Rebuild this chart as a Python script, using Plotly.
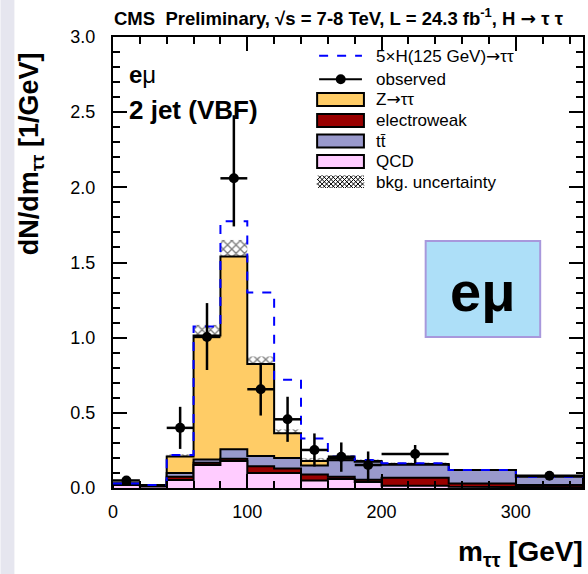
import numpy as np
import plotly.graph_objects as go

# ---------------- data ----------------
edges = [0, 20, 40, 60, 80, 100, 120, 140, 160, 180, 200, 250, 300, 350]
qcd = [0.020, 0.010, 0.053, 0.153, 0.180, 0.100, 0.100, 0.050, 0.060, 0.040, 0.015, 0.008, 0.005]
ewk = [0.005, 0.002, 0.022, 0.015, 0.015, 0.045, 0.030, 0.040, 0.015, 0.015, 0.053, 0.022, 0.015]
ttbar = [0.005, 0.008, 0.025, 0.022, 0.062, 0.068, 0.070, 0.060, 0.110, 0.120, 0.087, 0.090, 0.055]
ztt = [0.000, 0.000, 0.110, 0.825, 1.283, 0.612, 0.165, 0.030, 0.010, 0.005, 0.005, 0.000, 0.000]
signal5x = [0.000, 0.000, 0.010, 0.060, 0.235, 0.475, 0.355, 0.150, 0.015, 0.006, 0.004, 0.000, 0.000]
bkg_unc = [0.005, 0.005, 0.015, 0.070, 0.110, 0.050, 0.025, 0.020, 0.020, 0.010, 0.010, 0.005, 0.005]

obs_x = [10, 50, 70, 90, 110, 130, 150, 170, 190, 225, 325]
obs_xerr = [10, 10, 10, 10, 10, 10, 10, 10, 10, 25, 25]
obs_y = [0.050, 0.400, 1.005, 2.060, 0.657, 0.457, 0.253, 0.208, 0.153, 0.226, 0.082]
obs_up = [0.030, 0.140, 0.225, 0.420, 0.170, 0.150, 0.110, 0.095, 0.090, 0.060, 0.028]
obs_dn = [0.030, 0.140, 0.220, 0.320, 0.175, 0.150, 0.110, 0.100, 0.110, 0.060, 0.028]

x_ticks = [0, 100, 200, 300]
y_ticks = [0.0, 0.5, 1.0, 1.5, 2.0, 2.5, 3.0]

FONT = "Liberation Sans, Arial, Helvetica, sans-serif"
W, H = 588, 574
L, R, T, B = 113, 585, 37, 488

e = np.array(edges, dtype=float)
centers = 0.5 * (e[:-1] + e[1:])
widths = e[1:] - e[:-1]
c_qcd = np.array(qcd)
c_ewk = c_qcd + np.array(ewk)
c_tt = c_ewk + np.array(ttbar)
c_ztt = c_tt + np.array(ztt)
c_sig = c_ztt + np.array(signal5x)
unc = np.array(bkg_unc)


def step_closed(vals):
    xs, ys = [e[0]], [0.0]
    for i, v in enumerate(vals):
        xs += [e[i], e[i + 1]]
        ys += [v, v]
    xs.append(e[-1]); ys.append(0.0)
    return xs, ys


def step_open(vals):
    xs, ys = [], []
    for i, v in enumerate(vals):
        xs += [e[i], e[i + 1]]
        ys += [v, v]
    return xs, ys


fig = go.Figure()

for vals, col in [(c_ztt, "#FFCC66"), (c_tt, "#9999CC"), (c_ewk, "#990000"), (c_qcd, "#FFCCFF")]:
    xs, ys = step_closed(vals)
    fig.add_trace(go.Scatter(x=xs, y=ys, mode="lines", fill="tozeroy", fillcolor=col,
                             line=dict(color="black", width=2), hoverinfo="skip", showlegend=False))

fig.add_trace(go.Bar(x=centers, y=2 * unc, base=c_ztt - unc, width=widths,
                     marker=dict(color="rgba(0,0,0,0)", line=dict(width=0),
                                 pattern=dict(shape="x", fgcolor="black", bgcolor="rgba(0,0,0,0)",
                                              size=6, solidity=0.4, fillmode="overlay")),
                     showlegend=False, hoverinfo="skip"))

xs, ys = step_open(c_sig)
fig.add_trace(go.Scatter(x=xs, y=ys, mode="lines", line=dict(color="#0000FF", width=2, dash="dash"),
                         showlegend=False, hoverinfo="skip"))

fig.add_trace(go.Scatter(x=obs_x, y=obs_y, mode="markers",
                         marker=dict(color="black", size=10),
                         error_y=dict(type="data", symmetric=False, array=obs_up, arrayminus=obs_dn,
                                      color="black", thickness=2.5, width=0),
                         error_x=dict(type="data", array=obs_xerr, color="black", thickness=2.5, width=0),
                         showlegend=False))


def px(xp):
    return (xp - L) / (R - L)


def py(yp):
    return (B - yp) / (B - T)


shapes = []
annotations = []

# left slide strip
shapes.append(dict(type="rect", xref="paper", yref="paper", x0=px(0), x1=px(14), y0=py(574), y1=py(0),
                   fillcolor="#E6E6EF", line=dict(width=0), layer="below"))

# legend
LX0, LX1, TX = 318, 365, 375
shapes.append(dict(type="line", xref="paper", yref="paper", x0=px(320), x1=px(363), y0=py(55.7), y1=py(55.7),
                   line=dict(color="#0000FF", width=2, dash="dash")))
shapes.append(dict(type="line", xref="paper", yref="paper", x0=px(320), x1=px(363), y0=py(79.3), y1=py(79.3),
                   line=dict(color="black", width=2)))
shapes.append(dict(type="circle", xref="paper", yref="paper", x0=px(336.7), x1=px(346.7), y0=py(84.3), y1=py(74.3),
                   fillcolor="black", line=dict(color="black", width=0)))
boxes = [(93, 106, "#FFCC66"), (114, 127, "#990000"), (134.5, 147.5, "#9999CC"), (155, 168, "#FFCCFF")]
for y0, y1, col in boxes:
    shapes.append(dict(type="rect", xref="paper", yref="paper", x0=px(LX0), x1=px(LX1), y0=py(y1), y1=py(y0),
                       fillcolor=col, line=dict(color="black", width=2)))
# hatched legend box
hy0, hy1 = 175.5, 188
path = ""
sp = 4.5
k = -(hy1 - hy0)
while k < (LX1 - LX0):
    xa = LX0 + k
    xb = xa + (hy1 - hy0)
    x_s, y_s = xa, hy0
    x_e, y_e = xb, hy1
    if x_s < LX0:
        y_s += LX0 - x_s; x_s = LX0
    if x_e > LX1:
        y_e -= x_e - LX1; x_e = LX1
    if x_e > x_s:
        path += f"M{px(x_s):.5f},{py(y_s):.5f} L{px(x_e):.5f},{py(y_e):.5f} "
        path += f"M{px(x_s):.5f},{py(hy0 + hy1 - y_s):.5f} L{px(x_e):.5f},{py(hy0 + hy1 - y_e):.5f} "
    k += sp
shapes.append(dict(type="path", xref="paper", yref="paper", path=path, line=dict(color="black", width=1)))

ARROW = "<span style='font-family:DejaVu Sans'>→</span>"
leg_text = [(f"5×H(125 GeV){ARROW}ττ", 55.7), ("observed", 79.3), (f"Z{ARROW}ττ", 99.5),
            ("electroweak", 120.5), ("tt̄", 141), ("QCD", 161.5), ("bkg. uncertainty", 182)]
for t, yy in leg_text:
    annotations.append(dict(text=t, xref="paper", yref="paper", x=px(TX), y=py(yy), xanchor="left",
                            yanchor="middle", showarrow=False, font=dict(size=17, color="black", family=FONT)))

# eμ box
shapes.append(dict(type="rect", xref="paper", yref="paper", x0=px(427), x1=px(542), y0=py(337), y1=py(241),
                   fillcolor="#ADDFF8", line=dict(color="#A898DC", width=2)))
annotations.append(dict(text="<b>eμ</b>", xref="paper", yref="paper", x=px(484.5), y=py(291), xanchor="center",
                        yanchor="middle", showarrow=False, font=dict(size=56, color="black", family=FONT)))

# titles / labels
annotations.append(dict(text=f"<b>CMS  Preliminary, √s = 7-8 TeV, L = 24.3 fb<sup>-1</sup>, H {ARROW} τ τ</b>",
                        xref="paper", yref="paper", x=px(112), y=py(17), xanchor="left", yanchor="middle",
                        showarrow=False, font=dict(size=18.5, color="black", family=FONT)))
annotations.append(dict(text="<b>e</b>μ", xref="paper", yref="paper", x=px(127), y=py(74), xanchor="left",
                        yanchor="middle", showarrow=False, font=dict(size=24, color="black", family=FONT)))
annotations.append(dict(text="<b>2 jet (VBF)</b>", xref="paper", yref="paper", x=px(127), y=py(110),
                        xanchor="left", yanchor="middle", showarrow=False,
                        font=dict(size=26, color="black", family=FONT)))
annotations.append(dict(text="<b>dN/dm<sub>ττ</sub> [1/GeV]</b>", xref="paper", yref="paper", x=px(31),
                        y=py(154), xanchor="center", yanchor="middle", textangle=-90, showarrow=False,
                        font=dict(size=27, color="black", family=FONT)))
annotations.append(dict(text="<b>m<sub>ττ</sub> [GeV]</b>", xref="paper", yref="paper", x=px(587),
                        y=py(553), xanchor="right", yanchor="middle", showarrow=False,
                        font=dict(size=28, color="black", family=FONT)))

fig.update_layout(
    width=W, height=H,
    margin=dict(l=L, r=W - R, t=T, b=H - B, pad=0),
    paper_bgcolor="white", plot_bgcolor="white",
    font=dict(family=FONT, size=18, color="black"),
    barmode="overlay", showlegend=False,
    shapes=shapes, annotations=annotations,
    xaxis=dict(range=[0, 350], tickvals=x_ticks, ticktext=[str(v) for v in x_ticks],
               ticks="inside", ticklen=14, tickwidth=2, tickcolor="black",
               showline=True, linewidth=2, linecolor="black", mirror="allticks",
               showgrid=False, zeroline=False, tickfont=dict(size=18),
               minor=dict(dtick=20, ticks="inside", ticklen=7, tickwidth=2, tickcolor="black", showgrid=False),
               ticklabelstandoff=6),
    yaxis=dict(range=[0, 3.0], tickvals=y_ticks, ticktext=[f"{v:.1f}" for v in y_ticks],
               ticks="inside", ticklen=14, tickwidth=2, tickcolor="black",
               showline=True, linewidth=2, linecolor="black", mirror="allticks",
               showgrid=False, zeroline=False, tickfont=dict(size=18),
               minor=dict(dtick=0.1, ticks="inside", ticklen=7, tickwidth=2, tickcolor="black", showgrid=False),
               ticklabelstandoff=12),
)

fig.write_html("out.html")
